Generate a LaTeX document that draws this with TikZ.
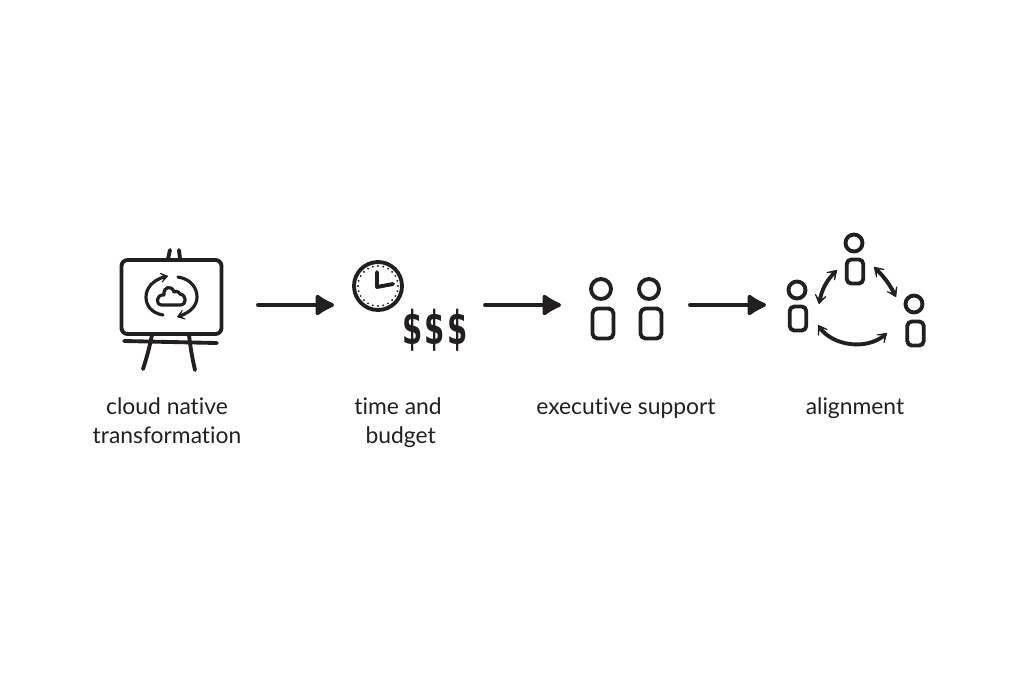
\documentclass[tikz,border=0pt]{standalone}
\usepackage{fontspec}
\setmainfont{Lato}[Ligatures=NoCommon]
\newfontfamily\moneyfont{DejaVu Sans}
\usetikzlibrary{arrows.meta,bending}
\definecolor{ink}{HTML}{231F20}
\begin{document}
\begin{tikzpicture}[x=0.02cm,y=-0.02cm,line width=2.2pt,line cap=round,line join=round,color=ink]
\tikzstyle{screen}=[draw,rectangle,rounded corners=0.12cm,minimum width=2cm,minimum height=1.48cm]
\tikzstyle{head}=[draw,circle,inner sep=0pt,minimum size=0.4cm]
\tikzstyle{smallhead}=[draw,circle,inner sep=0pt,minimum size=0.34cm]
\tikzstyle{body}=[draw,rectangle,rounded corners=0.1cm,minimum width=0.42cm,minimum height=0.6cm]
\tikzstyle{smallbody}=[draw,rectangle,rounded corners=0.09cm,minimum width=0.33cm,minimum height=0.48cm]
\tikzstyle{flow}=[-{Latex[length=0.44cm,width=0.5cm,round]}]
\tikzstyle{swap}=[{Stealth[length=0.28cm,width=0.36cm,inset=0.2cm,round]}-{Stealth[length=0.28cm,width=0.36cm,inset=0.2cm,round]},line width=2.2pt]
\tikzstyle{cycle}=[-{Stealth[length=0.22cm,width=0.3cm,inset=0.15cm,round]},line width=1.8pt]
\tikzstyle{label}=[align=center,font=\fontsize{13}{16.4}\selectfont,text=ink]
\tikzstyle{money}=[font=\moneyfont\bfseries\fontsize{23}{23}\selectfont,text=ink,inner sep=0pt]
\useasboundingbox (0,0) rectangle (1022,681);
% easel
\node [screen] (board) at (171.5,297) {};
\coordinate (pega) at (170,250);
\coordinate (pegb) at (168,259);
\coordinate (pegc) at (179,250);
\coordinate (pegd) at (180,259);
\coordinate (bara) at (124,341);
\coordinate (barb) at (217,343);
\coordinate (lega) at (152,335);
\coordinate (legb) at (143,369);
\coordinate (legc) at (189,335);
\coordinate (legd) at (195,370);
\draw (pega) -- (pegb);
\draw (pegc) -- (pegd);
\draw (bara) -- (barb);
\draw (lega) to[bend left=3] (legb);
\draw (legc) to[bend right=3] (legd);
% cloud icon
\draw [cycle] (163,315) .. controls (151,313) and (146,305) .. (146,297) .. controls (146,288) and (153,279) .. (168,276);
\draw [cycle] (178,277) .. controls (191,279) and (197,288) .. (197,297) .. controls (197,306) and (190,313) .. (177,317);
\draw [line width=1.8pt] (162,305) -- (180,305) .. controls (187,305) and (187,295) .. (180,294)
  .. controls (178,290) and (175,292) .. (174,292) .. controls (172,285) and (163,286) .. (164,295)
  .. controls (156,294) and (155,305) .. (162,305);
% clock
\node [draw,circle,inner sep=0pt,minimum size=0.96cm] (clock) at (378,286) {};
\foreach \a in {0,15,...,345}
  \fill (378,286) ++(\a:0.4cm) circle (0.6pt);
\coordinate (clockhub) at (377,287);
\coordinate (clockhour) at (377,272);
\coordinate (clockmin) at (393,284);
\draw (clockhour) -- (clockhub) -- (clockmin);
\node [money] (usda) at (413,330) {\scalebox{0.72}[1.15]{\$}};
\node [money] (usdb) at (435,330) {\scalebox{0.72}[1.15]{\$}};
\node [money] (usdc) at (458,330) {\scalebox{0.72}[1.15]{\$}};
% executives
\node [head] (heada) at (601,289) {};
\node [body] (bodya) at (603,323.5) {};
\node [head] (headb) at (649,289) {};
\node [body] (bodyb) at (651,323.5) {};
% alignment
\node [smallhead] (headt) at (854,243) {};
\node [smallbody] (bodyt) at (855,271.5) {};
\node [smallhead] (headl) at (797,290) {};
\node [smallbody] (bodyl) at (798,318.5) {};
\node [smallhead] (headr) at (914,304) {};
\node [smallbody] (bodyr) at (915.5,333.5) {};
\coordinate (swapa) at (837,270);
\coordinate (swapb) at (819,304);
\coordinate (swapc) at (874,267);
\coordinate (swapd) at (896,297);
\coordinate (swape) at (818,325);
\coordinate (swapf) at (887,333);
\draw [swap] (swapa) to[bend right=18] (swapb);
\draw [swap] (swapc) to[bend left=10] (swapd);
\draw [swap] (swape) .. controls (830,346) and (868,352) .. (swapf);
% flow
\coordinate (flowa) at (258,305);
\coordinate (flowb) at (334,305);
\coordinate (flowc) at (485,305);
\coordinate (flowd) at (561,305);
\coordinate (flowe) at (690,305);
\coordinate (flowf) at (766,305);
\draw [flow] (flowa) -- (flowb);
\draw [flow] (flowc) -- (flowd);
\draw [flow] (flowe) -- (flowf);
% labels
\node [label] (cloudtext) at (167,420.5) {cloud native\\transformation};
\node [label] (timetext) at (398,422.5) {time and\\\hspace*{3pt}budget};
\node [label] (supporttext) at (626,408) {executive support};
\node [label] (aligntext) at (855,408) {alignment};
\end{tikzpicture}
\end{document}
